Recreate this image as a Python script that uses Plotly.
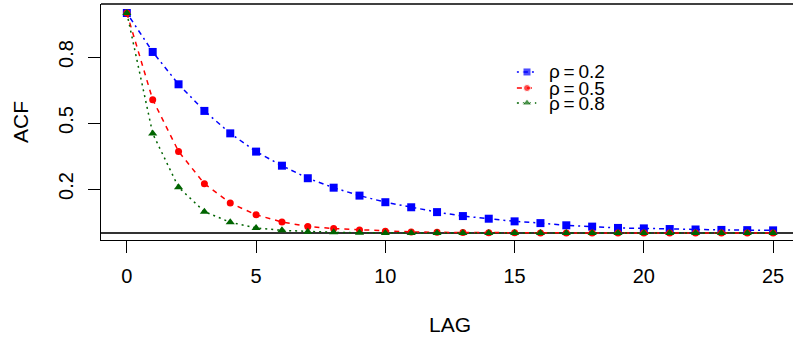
import plotly.graph_objects as go

# ---- data ----
lags = list(range(0, 26))
acf_02 = [1.0, 0.823, 0.676, 0.555, 0.453, 0.370, 0.306, 0.249, 0.206, 0.170, 0.140,
          0.117, 0.095, 0.077, 0.065, 0.053, 0.045, 0.035, 0.029, 0.023, 0.021,
          0.018, 0.016, 0.014, 0.013, 0.012]
acf_05 = [1.0, 0.606, 0.371, 0.224, 0.136, 0.083, 0.050, 0.030, 0.020, 0.014, 0.008,
          0.005, 0.003, 0.002, 0.001, 0.001, 0.0, 0.0, 0.0, 0.0, 0.0,
          0.0, 0.0, 0.0, 0.0, 0.0]
acf_08 = [1.0, 0.452, 0.208, 0.097, 0.049, 0.023, 0.012, 0.006, 0.003, 0.001, 0.0,
          0.0, 0.0, 0.0, 0.0, 0.0, 0.0, 0.0, 0.0, 0.0, 0.0,
          0.0, 0.0, 0.0, 0.0, 0.0]
series_names = ["ρ\u2009=\u20090.2", "ρ\u2009=\u20090.5", "ρ\u2009=\u20090.8"]
x_ticks = [0, 5, 10, 15, 20, 25]
y_ticks = [0.2, 0.5, 0.8]
y_ticklabels = ["0.2", "0.5", "0.8"]

# ---- styles ----
FONT = "Liberation Sans, Arial, sans-serif"
colors = ["#0000FF", "#FF0000", "#006400"]
dashes = ["2px,4px,5px,4px", "5px,5px", "2px,4px"]
symbols = ["square", "circle", "triangle-up"]
msizes = [8, 7, 8]

fig = go.Figure()
for vals, name, c, d, s, ms in zip([acf_02, acf_05, acf_08], series_names, colors, dashes, symbols, msizes):
    fig.add_trace(go.Scatter(
        x=lags, y=vals, mode="lines+markers", name=name, showlegend=False,
        line=dict(color=c, width=1.5, dash=d),
        marker=dict(symbol=s, size=ms, color=c),
        xaxis="x", yaxis="y",
    ))

# ---- manual legend (overlay axes in 0..1 paper-like units) ----
leg_x_line = [0.601, 0.6156, 0.629]
leg_rows = [0.712, 0.644, 0.5805]
leg_text_x = 0.6445
for name, c, d, s, ms, yr in zip(series_names, colors, dashes, symbols, msizes, leg_rows):
    fig.add_trace(go.Scatter(
        x=leg_x_line, y=[yr, yr, yr], mode="lines+markers", showlegend=False,
        line=dict(color=c, width=1.5, dash=d),
        marker=dict(symbol=s, size=[0, ms, 0], color=c),
        xaxis="x2", yaxis="y2", hoverinfo="skip",
    ))
    fig.add_annotation(x=leg_text_x, y=yr, xref="paper", yref="paper", text=name,
                       showarrow=False, xanchor="left", yanchor="middle",
                       font=dict(family=FONT, size=19, color="black"))

fig.update_layout(
    width=793, height=343,
    margin=dict(l=101, r=0, t=4, b=103),
    paper_bgcolor="white", plot_bgcolor="white",
    font=dict(family=FONT, size=20, color="black"),
    xaxis=dict(range=[-1.0, 25.77], tickvals=x_ticks, ticks="outside", ticklen=12,
               tickwidth=1, tickcolor="black", showline=True, linecolor="black",
               linewidth=1, showgrid=False, zeroline=False, ticklabelstandoff=6,
               tickfont=dict(family=FONT, size=20, color="black")),
    yaxis=dict(range=[-0.0318, 1.041], tickvals=y_ticks, ticktext=y_ticklabels,
               tickangle=-90, ticks="outside", ticklen=12, tickwidth=1,
               tickcolor="black", showline=True, linecolor="black", linewidth=1,
               showgrid=False, zeroline=True, zerolinecolor="#333333",
               zerolinewidth=1.5, ticklabelstandoff=7,
               tickfont=dict(family=FONT, size=20, color="black")),
    xaxis2=dict(range=[0, 1], overlaying="x", visible=False),
    yaxis2=dict(range=[0, 1], overlaying="y", visible=False),
    shapes=[dict(type="line", xref="paper", yref="paper", x0=0, x1=1, y0=1, y1=1,
                 line=dict(color="black", width=1.5))],
)
fig.add_annotation(x=-0.117, y=0.5, xref="paper", yref="paper", text="ACF",
                   textangle=-90, showarrow=False, xanchor="center", yanchor="middle",
                   font=dict(family=FONT, size=21, color="black"))
fig.add_annotation(x=0.504, y=-0.36, xref="paper", yref="paper", text="LAG",
                   showarrow=False, xanchor="center", yanchor="middle",
                   font=dict(family=FONT, size=21, color="black"))

fig.write_html("out.html")
